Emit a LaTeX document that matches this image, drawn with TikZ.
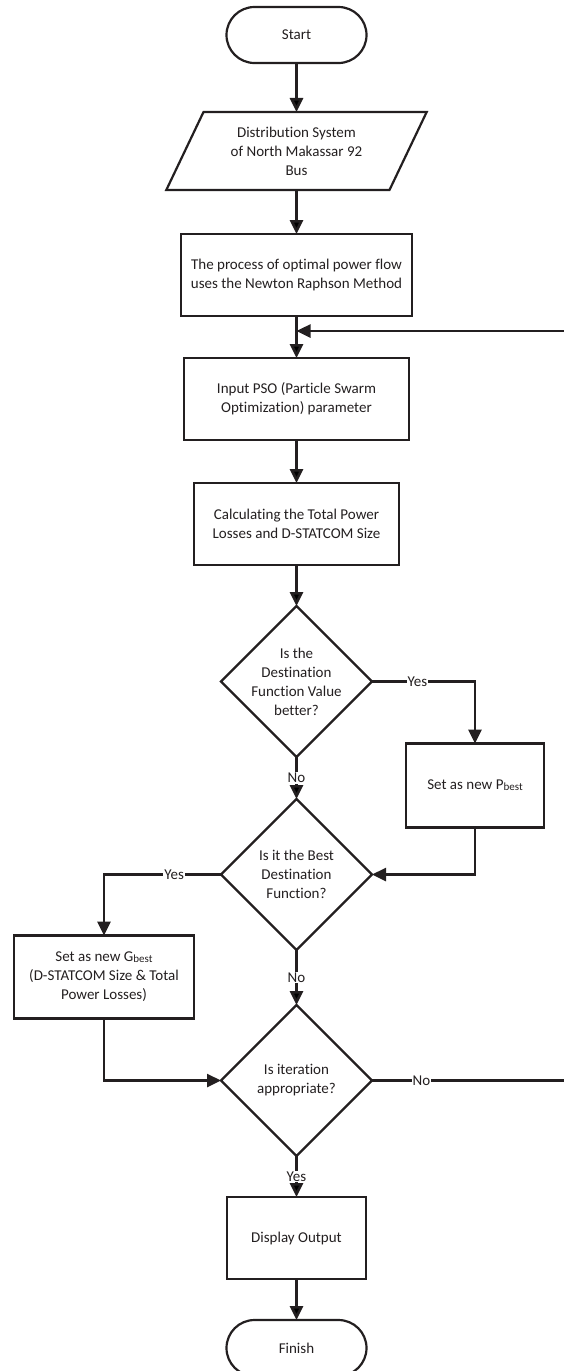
\documentclass[tikz,border=0pt]{standalone}
\usepackage{fontspec}
\setmainfont{Carlito}[Ligatures=NoCommon]
\usetikzlibrary{shapes.geometric,arrows.meta,positioning}
\definecolor{ink}{HTML}{231F20}
\newcommand{\sbest}{{\fontsize{11}{11}\selectfont\raisebox{-1pt}{best}}}

\begin{document}
\begin{tikzpicture}[x=1pt,y=1pt,node distance=42pt,
    every node/.style={font=\fontsize{15}{19}\selectfont, text=ink},
    base/.style={draw=ink, line width=2.2pt, outer sep=0pt, align=center},
    term/.style={base, rectangle, rounded corners=28pt, minimum width=140pt, minimum height=56pt},
    io/.style={base, trapezium, trapezium left angle=63.4, trapezium right angle=116.6,
        trapezium stretches=true, minimum width=261pt, minimum height=78pt},
    proc/.style={base, rectangle, minimum height=82pt},
    test/.style={base, diamond, minimum width=151pt, minimum height=151pt, inner sep=-15pt},
    lbl/.style={fill=white, inner sep=1pt},
    flow/.style={draw=ink, line width=2.6pt, -{Triangle[length=14pt,width=13pt]}}]
  \useasboundingbox (0,0) rectangle (564,-1371);

  \node[term] (start) at (296.5,-35) {Start};
  \node[io] (sys) [below=49pt of start] {Distribution System\\of North Makassar 92\\Bus};
  \node[proc, minimum width=231pt] (nr) [below=44pt of sys] {The process of optimal power flow\\uses the Newton Raphson Method};
  \node[proc, minimum width=225pt] (pso) [below=of nr] {Input PSO (Particle Swarm\\Optimization) parameter};
  \node[proc, minimum width=205pt] (calc) [below=43pt of pso] {Calculating the Total Power\\Losses and D-STATCOM Size};
  \node[test] (better) [below=41pt of calc] {Is the\\Destination\\Function Value\\better?};
  \node[test] (best) [below=of better] {Is it the Best\\Destination\\Function?};
  \node[test] (iter) [below=55pt of best] {Is iteration\\appropriate?};
  \node[proc, minimum width=139pt] (out) [below=41pt of iter] {Display Output};
  \node[term] (finish) [below=41pt of out] {Finish};

  \node[proc, minimum width=138pt, minimum height=84pt] (pbest) [below right=62pt and 34pt of better.east] {Set as new P\sbest};
  \node[proc, minimum width=180pt, minimum height=83pt] (gbest) [below left=61pt and 27pt of best.west] {Set as new G\sbest\\(D-STATCOM Size \& Total\\Power Losses)};

  \coordinate[below=15pt of nr] (merge);
  \coordinate[right=198pt of iter.east] (loop);

  \path[flow]
    (start) edge (sys)
    (sys) edge (nr)
    (nr) edge (pso)
    (pso) edge (calc)
    (calc) edge (better)
    (better) edge node[lbl] {No} (best)
    (best) edge node[lbl] {No} (iter)
    (iter) edge node[lbl] {Yes} (out)
    (out) edge (finish);

  \draw[flow] (better.east) -| node[lbl, pos=0.22] {Yes} (pbest.north);
  \draw[flow] (pbest.south) |- (best.east);
  \draw[flow] (best.west) -| node[lbl, pos=0.2] {Yes} (gbest.north);
  \draw[flow] (gbest.south) |- (iter.west);
  \draw[flow] (iter.east) -- node[lbl, pos=0.25] {No} (loop) |- (merge);
\end{tikzpicture}
\end{document}
